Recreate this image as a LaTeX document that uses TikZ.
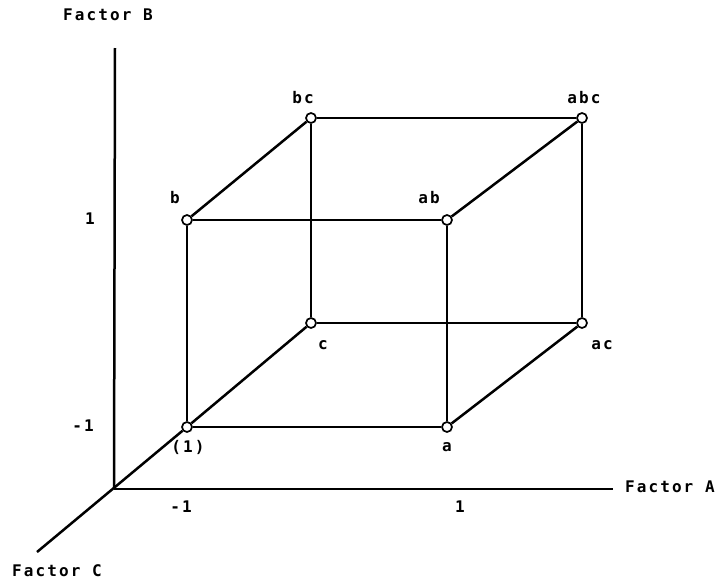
\documentclass[tikz,border=0pt]{standalone}
\usepackage{fontspec}
\usepackage{xcolor}
\setmonofont{DejaVu Sans Mono}
\newfontfamily\plotfont[LetterSpace=13]{DejaVu Sans Mono Bold}
\usetikzlibrary{positioning, calc}

\begin{document}
\begin{tikzpicture}[
        x=1pt, y=-1pt,
        corner/.style={circle, draw=black, fill=white, line width=1.7pt,
                  minimum size=10pt, inner sep=0pt},
        lbl/.style={font=\plotfont\fontsize{16}{16}\selectfont, inner sep=0pt},
        edge/.style={line width=2.5pt},
        axis/.style={line width=2.5pt}
      ]
        \useasboundingbox (0,0) rectangle (724,581);
        % axes
        \coordinate (O) at (114,489);
        \coordinate (Btop) at (115,48);
        \coordinate (Aend) at (613,489);
        \coordinate (Cend) at (37,552);
        % cube corners
        \node[corner] (p1) at (187,427) {};
        \node[corner] (a) at (447,427) {};
        \node[corner] (b) at (187,220) {};
        \node[corner] (ab) at (447,220) {};
        \node[corner] (c) at (311,323) {};
        \node[corner] (ac) at (582,323) {};
        \node[corner] (bc) at (311,118) {};
        \node[corner] (abc) at (582,118) {};
        \draw[axis] (O) -- (Btop);
        \draw[axis] (O) -- (Aend);
        \draw[axis] (Cend) -- (p1);
        % edges
        \draw[edge] (p1) -- (a);
        \draw[edge] (b) -- (ab);
        \draw[edge] (c) -- (ac);
        \draw[edge] (bc) -- (abc);
        \draw[edge] (p1) -- (b);
        \draw[edge] (a) -- (ab);
        \draw[edge] (c) -- (bc);
        \draw[edge] (ac) -- (abc);
        \draw[edge] (p1) -- (c);
        \draw[edge] (a) -- (ac);
        \draw[edge] (b) -- (bc);
        \draw[edge] (ab) -- (abc);
        % labels
        \node[lbl] (lp1) at (188,447) {(1)};
        \node[lbl] (la) at (447,447) {a};
        \node[lbl] (lb) at (175,198) {b};
        \node[lbl] (lab) at (429,198) {ab};
        \node[lbl] (lc) at (323,345) {c};
        \node[lbl] (lac) at (602,345) {ac};
        \node[lbl] (lbc) at (303,98) {bc};
        \node[lbl] (labc) at (584,98) {abc};
        % tick labels
        \node[lbl] (xm) at (181,507) {-1};
        \node[lbl] (xp) at (460,507) {1};
        \node[lbl] (ym) at (83,426) {-1};
        \node[lbl] (yp) at (90,219) {1};
        % axis titles
        \node[lbl, anchor=west] (fa) at (625,487) {Factor A};
        \node[lbl] (fb) at (108,15) {Factor B};
        \node[lbl] (fc) at (57,571) {Factor C};
      \end{tikzpicture}
\end{document}
